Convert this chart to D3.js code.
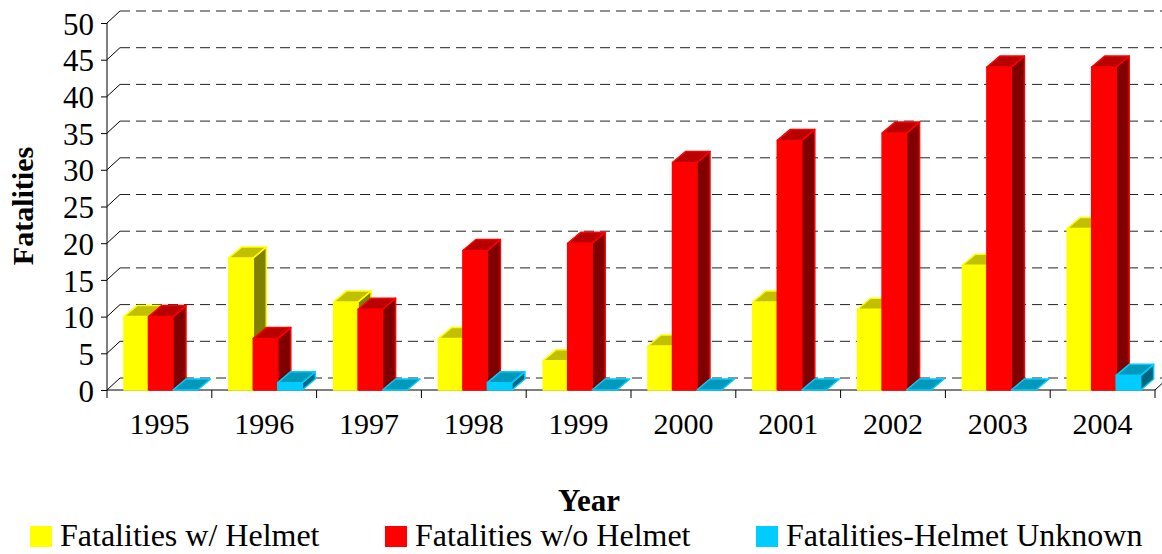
<!DOCTYPE html>
<html>
<head>
  <meta charset="utf8">
  <script src="https://d3js.org/d3.v7.min.js"></script>
  <style>
    body { margin: 0; background: #fff; }
    text { font-family: "Liberation Serif", "Times New Roman", serif; fill: #000; }
    .grid { stroke: #222; stroke-dasharray: 10 6; }
  </style>
</head>
<body>
  <svg id="chart" width="1162" height="554"></svg>
  <script>
    var years = ['1995', '1996', '1997', '1998', '1999', '2000', '2001', '2002', '2003', '2004'];
    var withHelmet = [10, 18, 12, 7, 4, 6, 12, 11, 17, 22];
    var withoutHelmet = [10, 7, 11, 19, 20, 31, 34, 35, 44, 44];
    var helmetUnknown = [0, 1, 0, 1, 0, 0, 0, 0, 0, 2];
    var seriesNames = ['Fatalities w/ Helmet', 'Fatalities w/o Helmet', 'Fatalities-Helmet Unknown'];
    var yTicks = [0, 5, 10, 15, 20, 25, 30, 35, 40, 45, 50];

    var colors = [
      { front: '#ffff00', top: '#c0c000', side: '#808000' },
      { front: '#ff0000', top: '#b80000', side: '#800000' },
      { front: '#00ccff', top: '#0099bb', side: '#006680' }
    ];
    var series = [withHelmet, withoutHelmet, helmetUnknown];

    var chart = d3.select('#chart');
    var left = 107, right = 1155, floorY = 390, topY = 23;
    var depthX = 13, depthY = 12;

    var x = d3.scaleBand().domain(years).range([left, right]).paddingInner(0).paddingOuter(0);
    var inner = d3.scaleBand().domain([0, 1, 2]).range([17, 17 + 73.5]);
    var y = d3.scaleLinear().domain([0, 50]).range([floorY, topY]);

    // back wall gridlines + diagonals
    yTicks.forEach(function (t) {
      if (t > 0) {
        chart.append('line').attr('class', 'grid')
          .attr('x1', left + depthX).attr('x2', 1162)
          .attr('y1', y(t) - depthY).attr('y2', y(t) - depthY);
      }
      chart.append('line').attr('stroke', '#000')
        .attr('x1', left).attr('y1', y(t))
        .attr('x2', left + depthX).attr('y2', y(t) - depthY);
    });
    // floor back edge
    chart.append('line').attr('class', 'grid')
      .attr('x1', left + depthX).attr('x2', 1162)
      .attr('y1', floorY - depthY).attr('y2', floorY - depthY);
    chart.append('line').attr('stroke', '#000')
      .attr('x1', right).attr('y1', floorY)
      .attr('x2', right + depthX).attr('y2', floorY - depthY);

    // y axis
    var yAxis = chart.append('g')
      .attr('transform', 'translate(' + left + ',0)')
      .call(d3.axisLeft(y).tickValues(yTicks).tickSize(6).tickPadding(7));
    yAxis.selectAll('text').style('font-size', '31px').attr('dy', '0.36em');
    yAxis.selectAll('line, path').attr('stroke', '#000');
    yAxis.select('.domain').attr('d', 'M0,' + floorY + 'V' + topY);

    // x axis
    var xAxis = chart.append('g')
      .attr('transform', 'translate(0,' + floorY + ')')
      .call(d3.axisBottom(x).tickSize(0).tickPadding(23));
    xAxis.selectAll('text').style('font-size', '30px').attr('dy', '0.71em');
    xAxis.select('.domain').attr('d', 'M' + left + ',0H' + right).attr('stroke', '#000');
    years.concat(['end']).forEach(function (yr, i) {
      var tx = i < years.length ? x(yr) : right;
      xAxis.append('line').attr('stroke', '#000')
        .attr('x1', tx).attr('x2', tx).attr('y1', 0).attr('y2', 8);
    });

    // 3D bars
    var bdx = 13, bdy = 11;
    years.forEach(function (yr, i) {
      series.forEach(function (vals, s) {
        var v = vals[i];
        var x0 = x(yr) + inner(s), w = inner.bandwidth();
        var yt = y(v), y0 = y(0);
        var c = colors[s];
        var g = chart.append('g').attr('stroke', c.front).attr('stroke-width', 1.5)
          .attr('stroke-linejoin', 'round');
        if (v > 0) {
          g.append('rect').attr('x', x0).attr('y', yt).attr('width', w).attr('height', y0 - yt)
            .attr('fill', c.front);
          g.append('polygon').attr('fill', c.side).attr('points', [
            [x0 + w, yt], [x0 + w + bdx, yt - bdy], [x0 + w + bdx, y0 - bdy], [x0 + w, y0]
          ].join(' '));
        }
        g.append('polygon').attr('fill', c.top).attr('points', [
          [x0, yt], [x0 + bdx, yt - bdy], [x0 + w + bdx, yt - bdy], [x0 + w, yt]
        ].join(' '));
      });
    });

    // axis titles
    chart.append('text')
      .attr('transform', 'translate(33,206) rotate(-90)')
      .attr('text-anchor', 'middle')
      .style('font-size', '30px').style('font-weight', 'bold')
      .text('Fatalities');
    chart.append('text')
      .attr('x', 589).attr('y', 511)
      .attr('text-anchor', 'middle')
      .style('font-size', '31px').style('font-weight', 'bold')
      .text('Year');

    // legend
    var legendX = [30, 385, 756];
    seriesNames.forEach(function (name, s) {
      chart.append('rect').attr('x', legendX[s]).attr('y', 526).attr('width', 22).attr('height', 21)
        .attr('fill', colors[s].front);
      chart.append('text').attr('x', legendX[s] + 30).attr('y', 546)
        .style('font-size', '32px').text(name);
    });
  </script>
</body>
</html>
